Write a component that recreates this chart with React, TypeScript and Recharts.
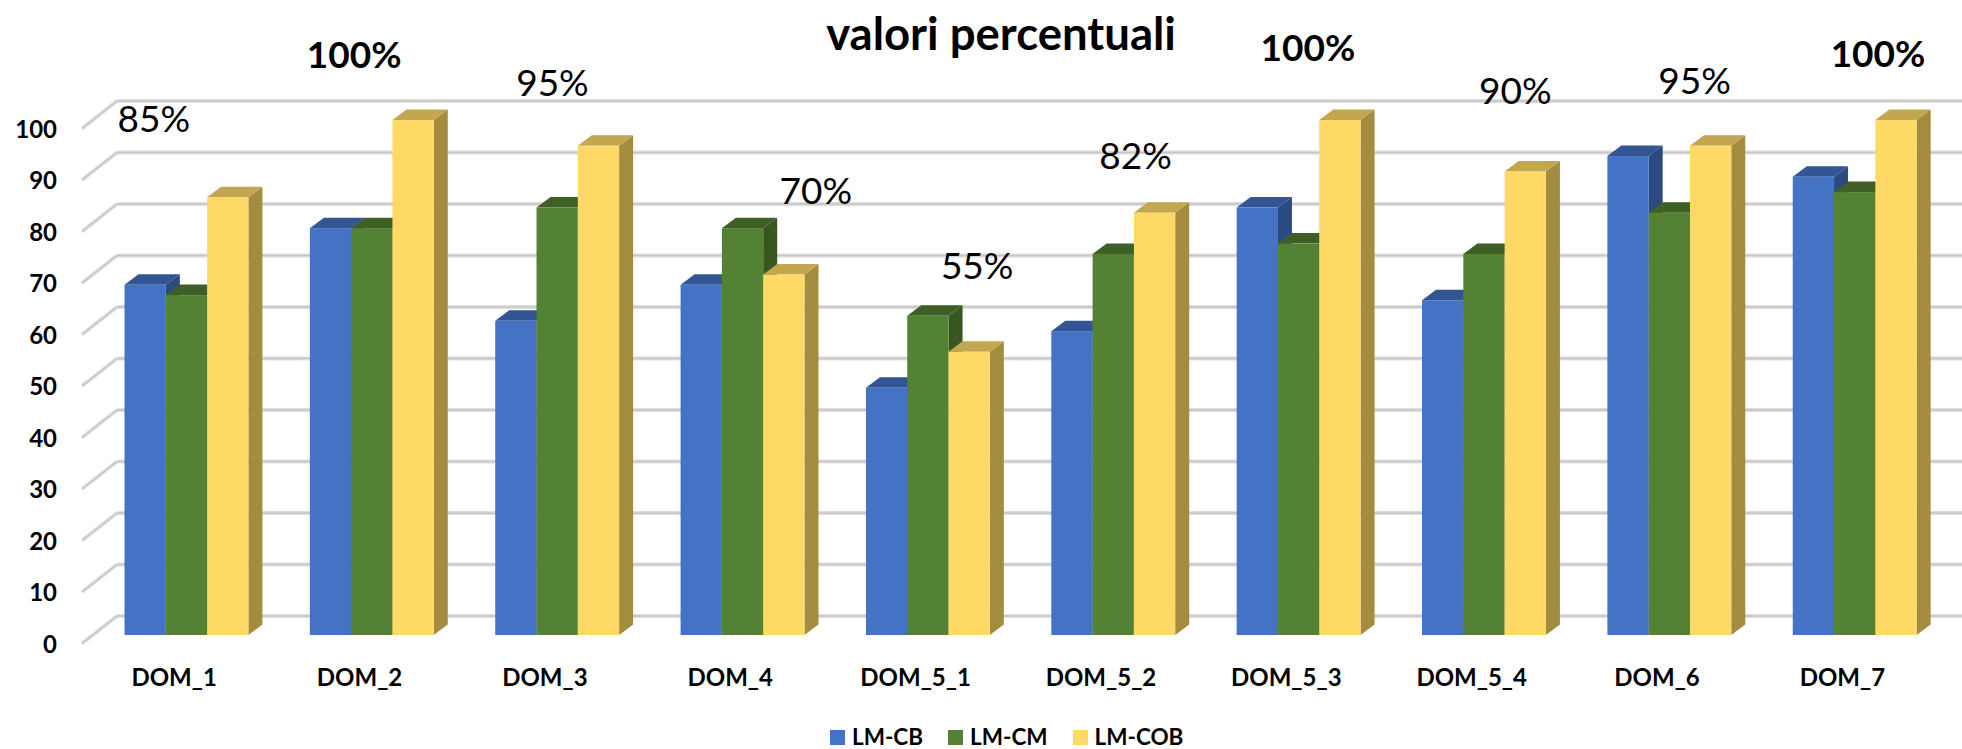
import React from "react";
import { BarChart, Bar, XAxis, YAxis, Legend, LabelList, CartesianGrid } from "recharts";

const categories = ["DOM_1", "DOM_2", "DOM_3", "DOM_4", "DOM_5_1", "DOM_5_2", "DOM_5_3", "DOM_5_4", "DOM_6", "DOM_7"];
const lmCb = [68, 79, 61, 68, 48, 59, 83, 65, 93, 89];
const lmCm = [66, 79, 83, 79, 62, 74, 76, 74, 82, 86];
const lmCob = [85, 100, 95, 70, 55, 82, 100, 90, 95, 100];
const yTicks = [0, 10, 20, 30, 40, 50, 60, 70, 80, 90, 100];

const data = categories.map((name, i) => ({ name, cb: lmCb[i], cm: lmCm[i], cob: lmCob[i] }));

// Hand-placed offsets of the percentage annotations, relative to the top centre of the yellow bar.
const labelDx = [-74, -59, -46, 32, 8, -19, -32, -10, -16, -18];
const labelDy = [-80, -66.5, -64, -85, -87, -58, -73.5, -82, -66, -67.5];

const FONT = "Lato, Carlito, sans-serif";
const DX = 14;
const DY = -10.5;

const Bar3D = (colors: { front: string; top: string; side: string }) => (props: any) => {
  const { x, y, width, height } = props;
  const r = x + width;
  const b = y + height;
  return (
    <g>
      <polygon points={`${r},${y} ${r + DX},${y + DY} ${r + DX},${b + DY} ${r},${b}`} fill={colors.side} />
      <polygon points={`${x},${y} ${x + DX},${y + DY} ${r + DX},${y + DY} ${r},${y}`} fill={colors.top} />
      <rect x={x} y={y} width={width} height={height} fill={colors.front} />
    </g>
  );
};

const GridLine = (props: any) => {
  const { y1 } = props;
  const y = y1;
  const backY = y - 19;
  return (
    <g>
      <line x1={117} y1={backY} x2={1962} y2={backY} stroke="#dedede" strokeWidth={3.8} />
      <line x1={117} y1={backY} x2={1962} y2={backY} stroke="#c6c6c6" strokeWidth={1.3} />
      <line x1={82} y1={y + 8.5} x2={117} y2={backY} stroke="#dedede" strokeWidth={3.8} />
      <line x1={82} y1={y + 8.5} x2={117} y2={backY} stroke="#c6c6c6" strokeWidth={1.3} />
    </g>
  );
};

const YTick = (props: any) => {
  const { y, payload } = props;
  return (
    <text x={57} y={y + 8} textAnchor="end" dominantBaseline="central" fontFamily={FONT} fontWeight={700} fontSize={24} fill="#000">
      {payload.value}
    </text>
  );
};

const XTick = (props: any) => {
  const { x, payload } = props;
  return (
    <text x={x - 12} y={676} textAnchor="middle" dominantBaseline="central" fontFamily={FONT} fontWeight={700} fontSize={24} fill="#000">
      {payload.value}
    </text>
  );
};

const PercentLabel = (props: any) => {
  const { x, y, width, value, index } = props;
  return (
    <text
      x={x + width / 2 + labelDx[index]}
      y={y + labelDy[index]}
      textAnchor="middle"
      dominantBaseline="central"
      fontFamily={FONT}
      fontWeight={value === 100 ? 700 : 400}
      fontSize={37}
      fill="#000"
    >
      {value}%
    </text>
  );
};

const LegendContent = (props: any) => {
  const { payload } = props;
  return (
    <div style={{ height: 24, display: "flex", alignItems: "center", fontFamily: FONT, fontWeight: 700, fontSize: 22.5, lineHeight: "24px", color: "#000", whiteSpace: "nowrap" }}>
      {(payload || []).map((p: any) => (
        <div key={p.value} style={{ display: "flex", alignItems: "center", marginRight: 25 }}>
          <span style={{ width: 15, height: 15, background: p.color, display: "inline-block", marginRight: 7 }} />
          <span>{p.value}</span>
        </div>
      ))}
    </div>
  );
};

export default function App() {
  return (
    <div style={{ position: "absolute", left: 0, top: 0, width: 1962, height: 749, background: "#fff", overflow: "hidden" }}>
      <BarChart
        width={1962}
        height={749}
        data={data}
        margin={{ top: 120, right: 14.9, bottom: 50, left: 0 }}
        barSize={41.3}
        barGap={0}
      >
        <CartesianGrid vertical={false} horizontal={<GridLine />} />
        <text x={1001} y={32} textAnchor="middle" dominantBaseline="central" fontFamily={FONT} fontWeight={700} fontSize={45.5} fill="#000">
          valori percentuali
        </text>
        <XAxis dataKey="name" axisLine={false} tickLine={false} height={40} tick={<XTick />} interval={0} />
        <YAxis domain={[0, 100]} ticks={yTicks} width={93.5} axisLine={false} tickLine={false} tick={<YTick />} interval={0} />
        <Legend content={<LegendContent />} wrapperStyle={{ left: 830, top: 725, bottom: "auto", width: 400, height: 24 }} />
        <Bar dataKey="cb" name="LM-CB" fill="#4472C4" isAnimationActive={false} shape={Bar3D({ front: "#4472C4", top: "#335593", side: "#2A4A80" })} />
        <Bar dataKey="cm" name="LM-CM" fill="#548235" isAnimationActive={false} shape={Bar3D({ front: "#548235", top: "#3E6026", side: "#375620" })} />
        <Bar dataKey="cob" name="LM-COB" fill="#FFD966" isAnimationActive={false} shape={Bar3D({ front: "#FFD966", top: "#C2A650", side: "#A38B3F" })}>
          <LabelList dataKey="cob" content={<PercentLabel />} />
        </Bar>
      </BarChart>
    </div>
  );
}
